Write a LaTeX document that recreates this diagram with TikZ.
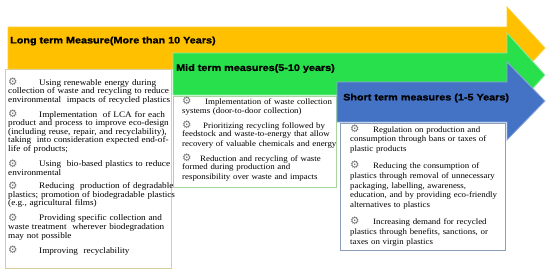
\documentclass[tikz,border=0pt]{standalone}
\usepackage{fontspec}
\setmainfont{Liberation Serif}[FakeStretch=1.08]
\newfontfamily\hfont{Liberation Sans}[FakeStretch=1.15, FakeBold=1.2]
\newfontfamily\symfont{DejaVu Sans}
\definecolor{orangec}{HTML}{FFC000}
\definecolor{greenc}{HTML}{27E04C}
\definecolor{bluec}{HTML}{4472C4}
\definecolor{lbord}{HTML}{D8CD9C}
\definecolor{mbord}{HTML}{A9D69C}
\definecolor{rbord}{HTML}{8C9DB8}
\definecolor{bulgray}{HTML}{707070}
\newcommand\bul{\raisebox{-0.5pt}{\textcolor{bulgray}{\symfont\fontsize{10.5}{10.5}\selectfont ⚙}}}
\newcommand\jl[1]{\makebox[\hsize][s]{#1}\par}
\newcommand\fl[2]{\makebox[\hsize][s]{\makebox[#1][l]{\bul}#2}\par}
\newcommand\rl[1]{#1\par}
\newcommand\bl[2]{\makebox[#1][l]{\bul}#2\par}
\tikzset{
  arrowshape/.style={line width=0.8pt, line join=miter},
  head/.style={font=\hfont\bfseries\fontsize{9.4}{11}\selectfont, anchor=west, inner sep=0pt},
  framebox/.style={draw, line width=0.8pt, fill=white, anchor=north west, inner sep=0pt},
  bodytext/.style 2 args={anchor=base west, inner sep=0pt, font=\fontsize{#1}{#2}\selectfont}
}
\begin{document}
\begin{tikzpicture}[x=1pt,y=-1pt]
\useasboundingbox (0,0) rectangle (550,273);
% long term arrow
\filldraw[arrowshape, fill=orangec, draw=orangec!80!white]
  (8,27) -- (507,27) -- (507,7) -- (545,48) -- (507,89) -- (507,69) -- (8,69) -- cycle;
\node[head] (longh) at (10,41) {Long term Measure(More than 10 Years)};
\node[framebox, draw=lbord, minimum width=166pt, minimum height=199pt] (lbox) at (5,69) {};
\node[bodytext={8.5}{8.6}, text width=175pt] (ltext) at (8,85) {%
\bl{31pt}{Using renewable energy during}
\rl{collection of waste and recycling to reduce}
\rl{environmental\ \ impacts of recycled plastics}
\vspace{5pt}
\bl{31pt}{Implementation\ \ of LCA for each}
\rl{product and process to improve eco-design}
\rl{(including reuse, repair, and recyclability),}
\rl{taking\ \ into consideration expected end-of-}
\rl{life of products;}
\vspace{5pt}
\bl{31pt}{Using\ \ bio-based plastics to reduce}
\rl{environmental}
\vspace{5pt}
\bl{31pt}{Reducing\ \ production of degradable}
\rl{plastics; promotion of biodegradable plastics}
\rl{(e.g., agricultural films)}
\vspace{5pt}
\bl{31pt}{Providing specific collection and}
\rl{waste treatment\ \ wherever biodegradation}
\rl{may not possible}
\vspace{5pt}
\bl{31pt}{Improving\ \ recyclability}};
% mid term arrow
\filldraw[arrowshape, fill=greenc, draw=greenc!55!white]
  (173,53) -- (507,53) -- (507,33) -- (545,75) -- (507,117) -- (507,95) -- (173,95) -- cycle;
\node[head] (midh) at (176,68.5) {Mid term measures(5-10 years)};
\node[framebox, draw=mbord, minimum width=163pt, minimum height=91pt] (mbox) at (173,96) {};
\node[bodytext={8.2}{9}, text width=152pt] (mtext) at (182,104) {%
\fl{23pt}{Implementation of waste collection}
\rl{systems (door-to-door collection)}
\vspace{6pt}
\fl{21pt}{Prioritizing recycling followed by}
\jl{feedstock and waste-to-energy that allow}
\jl{recovery of valuable chemicals and energy}
\vspace{6pt}
\fl{18pt}{Reduction and recycling of waste}
\jl{formed during production and}
\rl{responsibility over waste and impacts}};
% short term arrow
\filldraw[arrowshape, fill=bluec, draw=bluec!60!white]
  (337,82) -- (507,82) -- (507,62) -- (545,101) -- (507,140) -- (507,122) -- (337,122) -- cycle;
\node[head] (shorth) at (343,98) {Short term measures (1-5 Years)};
\node[framebox, draw=rbord, minimum width=165pt, minimum height=127pt] (rbox) at (340,123) {};
\node[bodytext={8.2}{9.8}, text width=152pt] (rtext) at (350,132) {%
\fl{23pt}{Regulation on production and}
\jl{consumption through bans or taxes of}
\rl{plastic products}
\vspace{7pt}
\fl{23pt}{Reducing the consumption of}
\jl{plastics through removal of unnecessary}
\jl{packaging, labelling, awareness,}
\jl{education, and by providing eco-friendly}
\rl{alternatives to plastics}
\vspace{7pt}
\fl{23pt}{Increasing demand for recycled}
\jl{plastics through benefits, sanctions, or}
\rl{taxes on virgin plastics}};
\end{tikzpicture}
\end{document}
